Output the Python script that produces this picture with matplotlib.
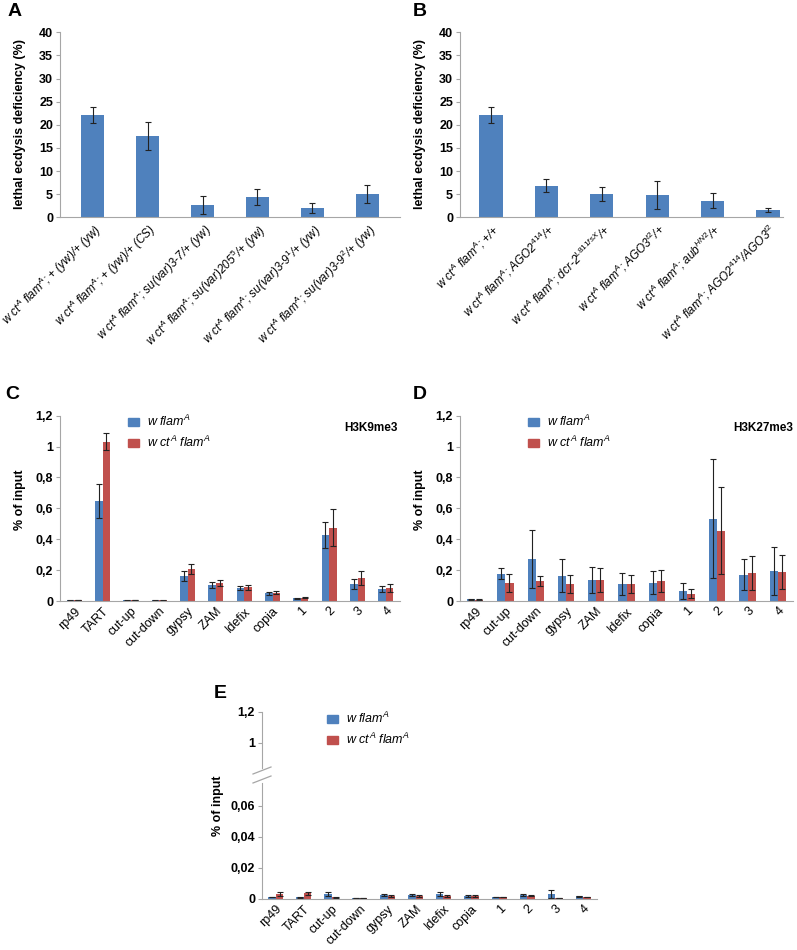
import matplotlib.pyplot as plt
from matplotlib.lines import Line2D
from matplotlib.patches import Patch
import numpy as np

plt.rcParams['font.family'] = ['Liberation Sans', 'DejaVu Sans']
plt.rcParams['mathtext.fontset'] = 'custom'
plt.rcParams['mathtext.rm'] = 'Liberation Sans'
plt.rcParams['mathtext.it'] = 'Liberation Sans:italic'
plt.rcParams['mathtext.bf'] = 'Liberation Sans:bold'

# panel A
a_labels = [r'w ct$^{A}$ flam$^{A}$; + (yw)/+ (yw)',
            r'w ct$^{A}$ flam$^{A}$; + (yw)/+ (CS)',
            r'w ct$^{A}$ flam$^{A}$; su(var)3-7/+ (yw)',
            r'w ct$^{A}$ flam$^{A}$; su(var)205$^{5}$/+ (yw)',
            r'w ct$^{A}$ flam$^{A}$; su(var)3-9$^{1}$/+ (yw)',
            r'w ct$^{A}$ flam$^{A}$; su(var)3-9$^{2}$/+ (yw)']
a_vals = [22.1, 17.6, 2.6, 4.4, 1.95, 5.05]
a_err = [1.65, 3.0, 1.9, 1.8, 1.05, 2.0]

# panel B
b_labels = [r'w ct$^{A}$ flam$^{A}$; +/+',
            r'w ct$^{A}$ flam$^{A}$; AGO2$^{414}$/+',
            r'w ct$^{A}$ flam$^{A}$; dcr-2$^{L811fsX}$/+',
            r'w ct$^{A}$ flam$^{A}$; AGO3$^{t2}$/+',
            r'w ct$^{A}$ flam$^{A}$; aub$^{HN2}$/+',
            r'w ct$^{A}$ flam$^{A}$; AGO2$^{414}$/AGO3$^{t2}$']
b_vals = [22.1, 6.85, 5.1, 4.8, 3.6, 1.6]
b_err = [1.65, 1.35, 1.55, 3.05, 1.65, 0.5]

lethal_ticks = [0, 5, 10, 15, 20, 25, 30, 35, 40]

# panel C (H3K9me3)
c_labels = ['rp49', 'TART', 'cut-up', 'cut-down', 'gypsy', 'ZAM', 'Idefix', 'copia', '1', '2', '3', '4']
c_flam = [0.005, 0.65, 0.004, 0.004, 0.162, 0.104, 0.086, 0.05, 0.017, 0.427, 0.11, 0.076]
c_flam_err = [0.002, 0.11, 0.001, 0.001, 0.03, 0.018, 0.012, 0.01, 0.004, 0.085, 0.035, 0.018]
c_ct = [0.006, 1.03, 0.007, 0.005, 0.207, 0.117, 0.088, 0.054, 0.021, 0.475, 0.147, 0.086]
c_ct_err = [0.002, 0.055, 0.002, 0.003, 0.035, 0.022, 0.014, 0.01, 0.003, 0.12, 0.045, 0.025]

# panel D (H3K27me3)
d_labels = ['rp49', 'cut-up', 'cut-down', 'gypsy', 'ZAM', 'Idefix', 'copia', '1', '2', '3', '4']
d_flam = [0.011, 0.178, 0.271, 0.165, 0.139, 0.11, 0.119, 0.065, 0.533, 0.171, 0.195]
d_flam_err = [0.003, 0.037, 0.186, 0.104, 0.084, 0.071, 0.074, 0.054, 0.386, 0.1, 0.154]
d_ct = [0.009, 0.119, 0.13, 0.108, 0.137, 0.108, 0.13, 0.048, 0.455, 0.182, 0.189]
d_ct_err = [0.003, 0.058, 0.03, 0.059, 0.076, 0.059, 0.07, 0.028, 0.282, 0.108, 0.112]

input_ticks = [0, 0.2, 0.4, 0.6, 0.8, 1.0, 1.2]
input_ticklabels = ['0', '0,2', '0,4', '0,6', '0,8', '1', '1,2']

# panel E
e_labels = c_labels
e_flam = [0.0012, 0.0008, 0.003, 0.0006, 0.0024, 0.0024, 0.003, 0.0019, 0.0009, 0.0025, 0.003, 0.0015]
e_flam_err = [0.0002, 0.0001, 0.0012, 0.0001, 0.0008, 0.0008, 0.001, 0.0005, 0.0001, 0.0005, 0.0025, 0.0004]
e_ct = [0.003, 0.0035, 0.001, 0.0005, 0.0015, 0.0016, 0.0018, 0.0016, 0.0009, 0.002, 0.0006, 0.001]
e_ct_err = [0.001, 0.001, 0.0003, 0.0001, 0.0007, 0.0006, 0.0005, 0.0005, 0.0001, 0.0003, 0.0001, 0.0002]
e_low_ticks = [0, 0.02, 0.04, 0.06]
e_low_ticklabels = ['0', '0,02', '0,04', '0,06']
e_high_ticks = [1.0, 1.2]
e_high_ticklabels = ['1', '1,2']

series_names = [r'$w\ flam^{A}$', r'$w\ ct^{A}\ flam^{A}$']

W, H = 797, 950
BLUE = '#4f81bd'
RED = '#c0504d'
AXC = '#a6a6a6'
ERR = dict(ecolor='#222222', elinewidth=0.8, capsize=2, capthick=0.8)

fig = plt.figure(figsize=(W / 100, H / 100), dpi=100)


def box(l, t, r, b):
    return [l / W, 1 - b / H, (r - l) / W, (b - t) / H]


def style(ax, bottom=True, xsize=9):
    for s in ['top', 'right']:
        ax.spines[s].set_visible(False)
    ax.spines['left'].set_color(AXC)
    ax.spines['bottom'].set_color(AXC)
    ax.spines['bottom'].set_visible(bottom)
    ax.tick_params(axis='y', direction='out', length=3, color=AXC, labelsize=9, pad=2)
    ax.tick_params(axis='x', length=0, labelsize=xsize, pad=3)
    for t in ax.get_yticklabels():
        t.set_fontweight('bold')


def lethal_panel(rect, vals, errs, labels, xlim):
    ax = fig.add_axes(rect)
    x = np.arange(len(vals))
    ax.bar(x, vals, 0.42, color=BLUE, yerr=errs, error_kw=ERR)
    ax.set_xlim(*xlim)
    ax.set_ylim(0, 40)
    ax.set_yticks(lethal_ticks)
    ax.set_xticks(x)
    ax.set_xticklabels(labels, rotation=45, ha='right', rotation_mode='anchor', fontstyle='italic')
    style(ax, xsize=8.5)
    return ax


def pair_bars(ax, v1, e1, v2, e2):
    x = np.arange(len(v1))
    w = 0.27
    ax.bar(x - w / 2, v1, w, color=BLUE, yerr=e1, error_kw=ERR)
    ax.bar(x + w / 2, v2, w, color=RED, yerr=e2, error_kw=ERR)
    ax.set_xlim(-0.5, len(v1) - 0.5)
    return x


def legend(ax, px, py):
    handles = [Patch(color=BLUE), Patch(color=RED)]
    ax.legend(handles, series_names, loc='upper left', bbox_to_anchor=(px / W, 1 - py / H),
              bbox_transform=fig.transFigure, frameon=False, borderpad=0, borderaxespad=0,
              handlelength=0.9, handleheight=0.6, handletextpad=0.6, labelspacing=0.45, fontsize=9)


# A and B
lethal_panel(box(60, 32.3, 400, 217.3), a_vals, a_err, a_labels, (-0.6, 5.6))
lethal_panel(box(460, 32.3, 783, 217.3), b_vals, b_err, b_labels, (-0.56, 5.27))
for xp in [20, 420]:
    fig.text(xp / W, 1 - 124 / H, 'lethal ecdysis deficiency (%)', rotation=90, ha='center', va='center',
             fontsize=9, fontweight='bold')

# C and D
for rect, labels, v1, e1, v2, e2, mark, tx in [
        (box(60, 415.7, 400, 601), c_labels, c_flam, c_flam_err, c_ct, c_ct_err, 'H3K9me3', 398),
        (box(460, 415.7, 793, 601), d_labels, d_flam, d_flam_err, d_ct, d_ct_err, 'H3K27me3', 793)]:
    ax = fig.add_axes(rect)
    x = pair_bars(ax, v1, e1, v2, e2)
    ax.set_ylim(0, 1.2)
    ax.set_yticks(input_ticks)
    ax.set_yticklabels(input_ticklabels)
    ax.set_xticks(x)
    ax.set_xticklabels(labels, rotation=45, ha='right', rotation_mode='anchor')
    style(ax)
    legend(ax, rect[0] * W + 68, 414)
    fig.text(tx / W, 1 - 428 / H, mark, ha='right', va='center', fontsize=8.5, fontweight='bold')
for xp in [20, 420]:
    fig.text(xp / W, 1 - 500 / H, '% of input', rotation=90, ha='center', va='center',
             fontsize=9, fontweight='bold')

# E with broken axis
ax_hi = fig.add_axes(box(262, 711.7, 597, 768))
ax_lo = fig.add_axes(box(262, 783, 597, 898.7))
for ax in [ax_hi, ax_lo]:
    x = pair_bars(ax, e_flam, e_flam_err, e_ct, e_ct_err)
ax_hi.set_ylim(0.837, 1.2)
ax_hi.set_yticks(e_high_ticks)
ax_hi.set_yticklabels(e_high_ticklabels)
ax_hi.set_xticks([])
style(ax_hi, bottom=False)
ax_lo.set_ylim(0, 0.0746)
ax_lo.set_yticks(e_low_ticks)
ax_lo.set_yticklabels(e_low_ticklabels)
ax_lo.set_xticks(x)
ax_lo.set_xticklabels(e_labels, rotation=45, ha='right', rotation_mode='anchor')
style(ax_lo)
legend(ax_hi, 327, 711)
fig.text(218 / W, 1 - 806 / H, '% of input', rotation=90, ha='center', va='center',
         fontsize=9, fontweight='bold')
for y0, y1 in [(774, 767), (783, 776)]:
    fig.add_artist(Line2D([253 / W, 271 / W], [1 - y0 / H, 1 - y1 / H], transform=fig.transFigure,
                          color=AXC, lw=0.9))

# panel letters
for letter, px, py in [('A', 8, 3), ('B', 413, 3), ('C', 5, 386), ('D', 413, 386), ('E', 214, 685)]:
    fig.text(px / W, 1 - py / H, letter, ha='left', va='top', fontsize=14, fontweight='bold')

fig.savefig('out.png', dpi=100)
